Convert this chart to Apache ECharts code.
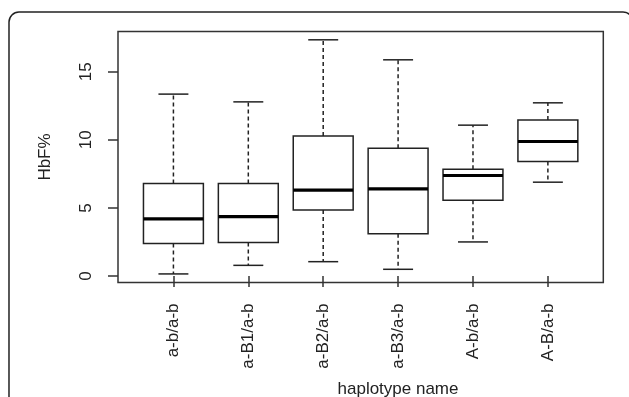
<!DOCTYPE html>
<html>
<head>
<meta charset="utf-8">
<script src="https://cdn.jsdelivr.net/npm/echarts@6/dist/echarts.min.js"></script>
<style>html,body{margin:0;padding:0;background:#fff;}#c{width:629px;height:397px;}</style>
</head>
<body>
<div id="c"></div>
<script>
const categories = ['a-b/a-b', 'a-B1/a-b', 'a-B2/a-b', 'a-B3/a-b', 'A-b/a-b', 'A-B/a-b'];
const lowerWhisker = [0.15, 0.78, 1.05, 0.49, 2.50, 6.89];
const q1 = [2.38, 2.45, 4.85, 3.11, 5.56, 8.41];
const median = [4.19, 4.36, 6.31, 6.40, 7.38, 9.88];
const q3 = [6.79, 6.79, 10.29, 9.39, 7.84, 11.45];
const upperWhisker = [13.36, 12.79, 17.35, 15.88, 11.08, 12.72];
const yTicks = [0, 5, 10, 15];

const positions = categories.map((c, i) => i + 1);
const data = categories.map((c, i) => [positions[i], lowerWhisker[i], q1[i], median[i], q3[i], upperWhisker[i]]);

const FONT = 'Liberation Sans, Arial, sans-serif';
const INK = '#222';

const chart = echarts.init(document.getElementById('c'), null, {renderer: 'canvas'});
chart.setOption({
  animation: false,
  backgroundColor: '#fff',
  grid: {left: 118, top: 31.5, right: 25.7, bottom: 114.5, show: true, borderColor: '#333', borderWidth: 1.5, backgroundColor: 'transparent'},
  xAxis: {
    type: 'value', min: 0.26, max: 6.74,
    splitLine: {show: false},
    axisLine: {show: false},
    axisTick: {show: true, customValues: positions, length: 11, inside: false, lineStyle: {color: '#333', width: 1.5}},
    axisLabel: {
      show: true, customValues: positions, rotate: 90, margin: 21,
      fontSize: 17, fontFamily: FONT, color: INK,
      formatter: v => categories[Math.round(v) - 1] || ''
    }
  },
  yAxis: {
    type: 'value', min: -0.48, max: 17.96,
    name: 'HbF%', nameLocation: 'middle', nameRotate: 90, nameGap: 64,
    nameTextStyle: {fontSize: 17, fontFamily: FONT, color: INK},
    splitLine: {show: false},
    axisLine: {show: false},
    axisTick: {show: true, customValues: yTicks, length: 10, inside: false, lineStyle: {color: '#333', width: 1.5}},
    axisLabel: {show: true, customValues: yTicks, rotate: 90, margin: 23, fontSize: 17, fontFamily: FONT, color: INK}
  },
  graphic: [
    {type: 'rect', shape: {x: 9, y: 12, width: 624, height: 440, r: 10}, style: {fill: 'none', stroke: INK, lineWidth: 1.5}, z: 0, silent: true},
    {type: 'text', x: 398, y: 389, style: {text: 'haplotype name', fontSize: 17, fontFamily: FONT, fill: INK, textAlign: 'center', textVerticalAlign: 'middle'}, silent: true}
  ],
  series: [{
    type: 'custom',
    data: data,
    encode: {x: 0, y: [1, 2, 3, 4, 5]},
    clip: false,
    renderItem: function (params, api) {
      const x = api.value(0);
      const pLo = api.coord([x, api.value(1)]);
      const pQ1 = api.coord([x, api.value(2)]);
      const pMed = api.coord([x, api.value(3)]);
      const pQ3 = api.coord([x, api.value(4)]);
      const pHi = api.coord([x, api.value(5)]);
      const hb = api.size([0.8, 0])[0] / 2;
      const hc = api.size([0.4, 0])[0] / 2;
      const cx = pMed[0];
      const solid = {stroke: INK, lineWidth: 1.5, fill: null};
      const dashed = {stroke: INK, lineWidth: 1.5, lineDash: [4, 3], fill: null};
      return {
        type: 'group',
        children: [
          {type: 'line', shape: {x1: cx, y1: pQ3[1], x2: cx, y2: pHi[1]}, style: dashed},
          {type: 'line', shape: {x1: cx, y1: pQ1[1], x2: cx, y2: pLo[1]}, style: dashed},
          {type: 'line', shape: {x1: cx - hc, y1: pHi[1], x2: cx + hc, y2: pHi[1]}, style: solid},
          {type: 'line', shape: {x1: cx - hc, y1: pLo[1], x2: cx + hc, y2: pLo[1]}, style: solid},
          {type: 'rect', shape: {x: cx - hb, y: pQ3[1], width: 2 * hb, height: pQ1[1] - pQ3[1]}, style: {stroke: INK, lineWidth: 1.5, fill: '#fff'}},
          {type: 'line', shape: {x1: cx - hb, y1: pMed[1], x2: cx + hb, y2: pMed[1]}, style: {stroke: '#000', lineWidth: 3.2}}
        ]
      };
    }
  }]
});
</script>
</body>
</html>
